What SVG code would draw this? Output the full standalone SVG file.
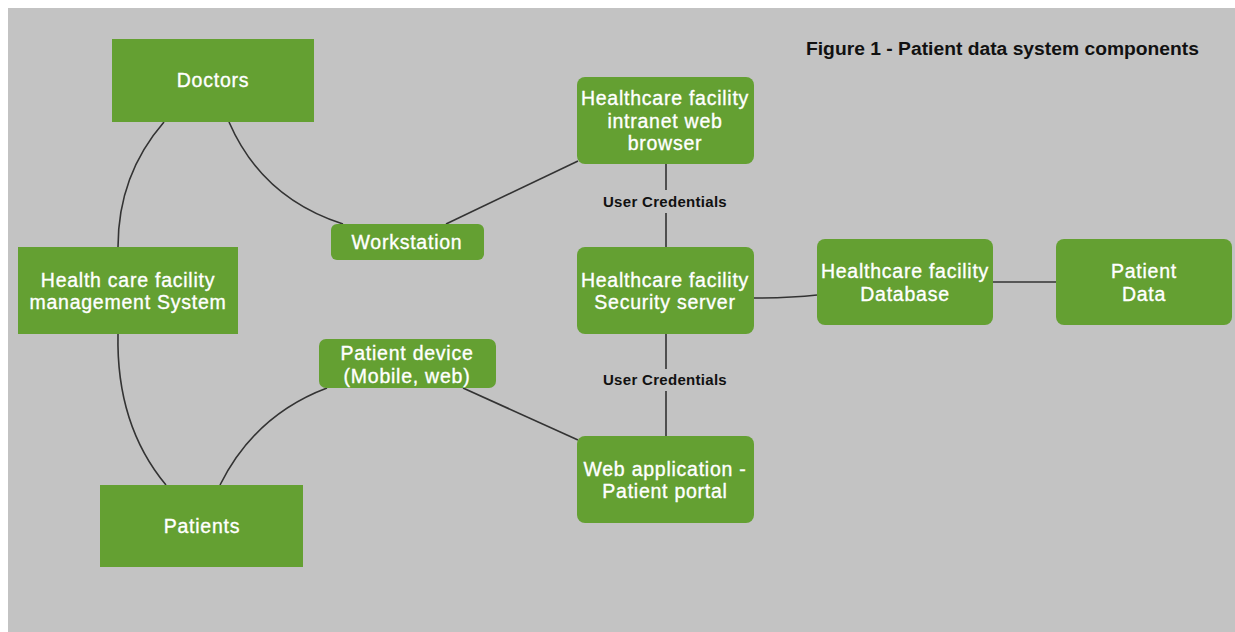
<svg xmlns="http://www.w3.org/2000/svg" width="1235" height="632" viewBox="0 0 1235 632">
<style>
.bg{fill:#c3c3c3}
.sq{fill:#64a032}
.rd{fill:#64a032}
.t{font-family:"Liberation Sans",Arial,sans-serif;font-size:19.5px;fill:#ffffff;stroke:#ffffff;stroke-width:0.35;text-anchor:middle;letter-spacing:0.75px}
.lbl{font-family:"Liberation Sans",Arial,sans-serif;font-size:15px;font-weight:bold;fill:#111111;text-anchor:middle;letter-spacing:0.3px}
.title{font-family:"Liberation Sans",Arial,sans-serif;font-size:18px;font-weight:bold;fill:#111111}
.c{fill:none;stroke:#333333;stroke-width:1.6}
</style>
<rect x="0" y="0" width="1235" height="632" fill="#ffffff"/>
<rect class="bg" x="8" y="8" width="1227" height="624"/>
<text class="title" x="806" y="55" textLength="393" lengthAdjust="spacingAndGlyphs">Figure 1 - Patient data system components</text>
<g id="connectors">
<path class="c" d="M164,122 Q118,175 118,247"/>
<path class="c" d="M229,122 Q262,198 343,224"/>
<path class="c" d="M446,224 L578,161"/>
<path class="c" d="M118,334 Q116,425 166,485"/>
<path class="c" d="M220,485 Q255,415 327,388"/>
<path class="c" d="M463,388 L578,440"/>
<path class="c" d="M666,164 L666,190 M666,213 L666,247"/>
<path class="c" d="M666,334 L666,369 M666,391 L666,436"/>
<path class="c" d="M754,298 Q790,298 817,295"/>
<path class="c" d="M993,282 L1056,282"/>
<text class="lbl" x="665" y="207">User Credentials</text>
<text class="lbl" x="665" y="385">User Credentials</text>
</g>
<g id="doctors"><rect class="sq" x="112" y="39" width="202" height="83"/><text class="t" x="213" y="87">Doctors</text></g>
<g id="hcfms"><rect class="sq" x="18" y="247" width="220" height="87"/><text class="t" x="128" y="287">Health care facility</text><text class="t" x="128" y="309">management System</text></g>
<g id="patients"><rect class="sq" x="100" y="485" width="203" height="82"/><text class="t" x="202" y="533">Patients</text></g>
<g id="workstation"><rect class="rd" x="331" y="224" width="153" height="36" rx="6"/><text class="t" x="407" y="249">Workstation</text></g>
<g id="intranet"><rect class="rd" x="577" y="77" width="177" height="87" rx="8"/><text class="t" x="665" y="105">Healthcare facility</text><text class="t" x="665" y="128">intranet web</text><text class="t" x="665" y="150">browser</text></g>
<g id="security"><rect class="rd" x="577" y="247" width="177" height="87" rx="8"/><text class="t" x="665" y="287">Healthcare facility</text><text class="t" x="665" y="309">Security server</text></g>
<g id="device"><rect class="rd" x="319" y="339" width="177" height="49" rx="7"/><text class="t" x="407" y="360">Patient device</text><text class="t" x="407" y="383">(Mobile, web)</text></g>
<g id="webapp"><rect class="rd" x="577" y="436" width="177" height="87" rx="8"/><text class="t" x="665" y="476">Web application -</text><text class="t" x="665" y="498">Patient portal</text></g>
<g id="database"><rect class="rd" x="817" y="239" width="176" height="86" rx="8"/><text class="t" x="905" y="278">Healthcare facility</text><text class="t" x="905" y="301">Database</text></g>
<g id="patientdata"><rect class="rd" x="1056" y="239" width="176" height="86" rx="8"/><text class="t" x="1144" y="278">Patient</text><text class="t" x="1144" y="301">Data</text></g>
</svg>
